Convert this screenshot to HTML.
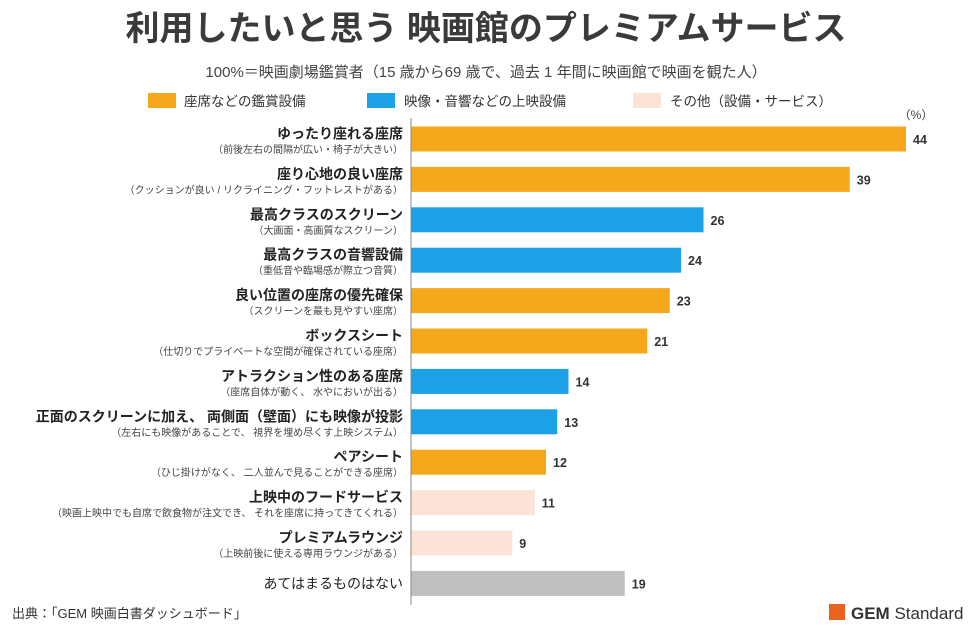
<!DOCTYPE html>
<html><head><meta charset="utf-8">
<style>
body{margin:0;background:#fff;}
svg{display:block;font-family:"Liberation Sans","Noto Sans CJK JP",sans-serif;}
</style></head>
<body>
<svg id="chart" width="972" height="630" viewBox="0 0 972 630">
<text x="486" y="40" text-anchor="middle" font-size="34" font-weight="bold" fill="#3a3a3a">利用したいと思う 映画館のプレミアムサービス</text>
<text x="486" y="77" text-anchor="middle" font-size="15" fill="#444">100%＝映画劇場鑑賞者（15 歳から69 歳で、過去 1 年間に映画館で映画を観た人）</text>
<g>
<rect x="148" y="93" width="28" height="15" fill="#F5A81C"/>
<text x="184" y="106" font-size="13.5" fill="#333">座席などの鑑賞設備</text>
<rect x="367" y="93" width="28" height="15" fill="#1DA1E6"/>
<text x="404" y="106" font-size="13.5" fill="#333">映像・音響などの上映設備</text>
<rect x="633" y="93" width="28" height="15" fill="#FBE4D7"/>
<text x="670" y="106" font-size="13.5" fill="#333">その他（設備・サービス）</text>
</g>
<text x="916" y="119" text-anchor="middle" font-size="12" fill="#444">（%）</text>
<g id="bars"></g>
<line x1="411" y1="118" x2="411" y2="605" stroke="#888" stroke-width="1"/>
<text x="12" y="618" font-size="13" fill="#333">出典：「GEM 映画白書ダッシュボード」</text>
<rect x="829" y="604" width="16" height="16" fill="#E8641E"/>
<text x="851" y="619" font-size="17" fill="#333"><tspan font-weight="bold">GEM</tspan> Standard</text>
</svg>
<script>
const categories=["ゆったり座れる座席","座り心地の良い座席","最高クラスのスクリーン","最高クラスの音響設備","良い位置の座席の優先確保","ボックスシート","アトラクション性のある座席","正面のスクリーンに加え、 両側面（壁面）にも映像が投影","ペアシート","上映中のフードサービス","プレミアムラウンジ","あてはまるものはない"];
const subLabels=["（前後左右の間隔が広い・椅子が大きい）","（クッションが良い / リクライニング・フットレストがある）","（大画面・高画質なスクリーン）","（重低音や臨場感が際立つ音質）","（スクリーンを最も見やすい座席）","（仕切りでプライベートな空間が確保されている座席）","（座席自体が動く、 水やにおいが出る）","（左右にも映像があることで、 視界を埋め尽くす上映システム）","（ひじ掛けがなく、 二人並んで見ることができる座席）","（映画上映中でも自席で飲食物が注文でき、 それを座席に持ってきてくれる）","（上映前後に使える専用ラウンジがある）",""];
const values=[44,39,26,24,23,21,14,13,12,11,9,19];
const groups=["seat","seat","screen","screen","seat","seat","screen","screen","seat","other","other","none"];
const colors={seat:"#F5A81C",screen:"#1DA1E6",other:"#FBE4D7",none:"#BFBFBF"};
const x0=411, scale=495/44;
function xPos(v){return x0+v*scale;}
function yPos(i){return 139+i*40.4;}
const NS="http://www.w3.org/2000/svg";
const g=document.getElementById("bars");
values.forEach((v,i)=>{
  const cy=yPos(i);
  const r=document.createElementNS(NS,"rect");
  r.setAttribute("x",x0);r.setAttribute("y",cy-12.5);
  r.setAttribute("width",xPos(v)-x0);r.setAttribute("height",25);
  r.setAttribute("fill",colors[groups[i]]);
  
  
  g.appendChild(r);
  const t=document.createElementNS(NS,"text");
  t.setAttribute("x",xPos(v)+7);t.setAttribute("y",cy+5);
  t.setAttribute("font-size","12.5");t.setAttribute("font-weight","bold");t.setAttribute("fill","#333");
  t.textContent=v;
  
  
  g.appendChild(t);
  const l=document.createElementNS(NS,"text");
  l.setAttribute("x",403);l.setAttribute("text-anchor","end");l.setAttribute("fill","#222");
  if(subLabels[i]){
    l.setAttribute("y",cy-0.5);l.setAttribute("font-size","14");l.setAttribute("font-weight","bold");
  }else{
    l.setAttribute("y",cy+5);l.setAttribute("font-size","14");
  }
  l.textContent=categories[i];
  
  
  g.appendChild(l);
  if(subLabels[i]){
    const s=document.createElementNS(NS,"text");
    s.setAttribute("x",403);s.setAttribute("y",cy+14);s.setAttribute("text-anchor","end");
    s.setAttribute("font-size","10");s.setAttribute("fill","#444");
    s.textContent=subLabels[i];
    
    
    g.appendChild(s);
  }
});
</script>
</body></html>
